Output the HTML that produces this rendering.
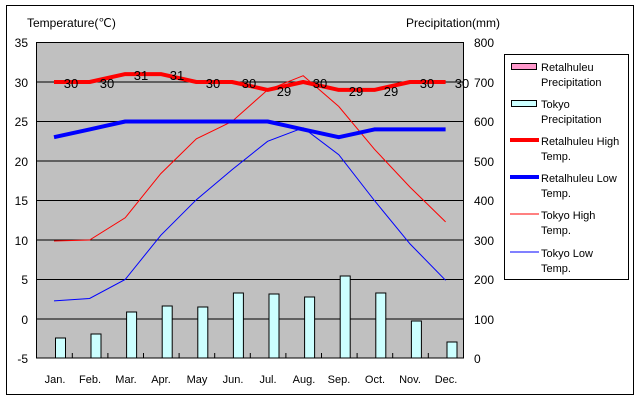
<!DOCTYPE html>
<html><head><meta charset="utf-8"><style>
body{margin:0;background:#fff;}
svg{display:block;font-family:"Liberation Sans",sans-serif;}
</style></head><body>
<svg width="640" height="400" xmlns="http://www.w3.org/2000/svg">
<rect x="0" y="0" width="640" height="400" fill="#fff"/>
<rect x="6.5" y="5.5" width="627" height="389" fill="#fff" stroke="#000" stroke-width="1"/>
<rect x="36.5" y="42.5" width="427" height="315.5" fill="#c0c0c0" stroke="#000" stroke-width="1"/>
<g stroke="#000" stroke-width="1">
<line x1="36" y1="82" x2="464" y2="82"/>
<line x1="36" y1="121.5" x2="464" y2="121.5"/>
<line x1="36" y1="161" x2="464" y2="161"/>
<line x1="36" y1="200.5" x2="464" y2="200.5"/>
<line x1="36" y1="240" x2="464" y2="240"/>
<line x1="36" y1="279.5" x2="464" y2="279.5"/>
<line x1="36" y1="319" x2="464" y2="319"/>
</g>
<g stroke="#000" stroke-width="1">
<line x1="72.3" y1="358" x2="72.3" y2="353"/><line x1="107.9" y1="358" x2="107.9" y2="353"/>
<line x1="143.5" y1="358" x2="143.5" y2="353"/><line x1="179.1" y1="358" x2="179.1" y2="353"/>
<line x1="214.7" y1="358" x2="214.7" y2="353"/><line x1="250.3" y1="358" x2="250.3" y2="353"/>
<line x1="285.9" y1="358" x2="285.9" y2="353"/><line x1="321.5" y1="358" x2="321.5" y2="353"/>
<line x1="357.1" y1="358" x2="357.1" y2="353"/><line x1="392.7" y1="358" x2="392.7" y2="353"/>
<line x1="428.3" y1="358" x2="428.3" y2="353"/>
</g>
<g fill="#ccffff" stroke="#000" stroke-width="1">
<rect x="55.5" y="338" width="10" height="20"/>
<rect x="91" y="334" width="10" height="24"/>
<rect x="126.6" y="312" width="10" height="46"/>
<rect x="162.2" y="306" width="10" height="52"/>
<rect x="197.8" y="307" width="10" height="51"/>
<rect x="233.4" y="293" width="10" height="65"/>
<rect x="269" y="294" width="10" height="64"/>
<rect x="304.6" y="297" width="10" height="61"/>
<rect x="340.2" y="276" width="10" height="82"/>
<rect x="375.8" y="293" width="10" height="65"/>
<rect x="411.4" y="321" width="10" height="37"/>
<rect x="447" y="342" width="10" height="16"/>
</g>
<polyline fill="none" stroke="#f00" stroke-width="1" points="54,241 89.6,240 125.2,217.8 160.8,173.6 196.4,138.8 232,121.5 267.6,89.9 303.2,75.7 338.8,106.5 374.4,149.2 410,187.1 445.6,221.9"/>
<polyline fill="none" stroke="#00f" stroke-width="1" points="54,300.9 89.6,298.5 125.2,279.5 160.8,235.3 196.4,199.7 232,169.7 267.6,141.3 303.2,127.8 338.8,154.7 374.4,200.5 410,243.9 445.6,280.3"/>
<polyline fill="none" stroke="#f00" stroke-width="4" stroke-linejoin="round" points="54,82 89.6,82 125.2,74.1 160.8,74.1 196.4,82 232,82 267.6,89.9 303.2,82 338.8,89.9 374.4,89.9 410,82 445.6,82"/>
<polyline fill="none" stroke="#00f" stroke-width="4" stroke-linejoin="round" points="54,137.2 89.6,129.4 125.2,121.5 160.8,121.5 196.4,121.5 232,121.5 267.6,121.5 303.2,129.4 338.8,137.2 374.4,129.4 410,129.4 445.6,129.4"/>
<g font-size="13" fill="#000" text-anchor="middle">
<text x="71" y="88">30</text><text x="107" y="88">30</text><text x="141" y="80">31</text><text x="177" y="80">31</text>
<text x="213" y="88">30</text><text x="249" y="88">30</text><text x="284" y="96">29</text><text x="320" y="88">30</text>
<text x="356" y="96">29</text><text x="391" y="96">29</text><text x="427" y="88">30</text><text x="462" y="88">30</text>
</g>
<g font-size="12" fill="#000" text-anchor="end">
<text x="28" y="47">35</text><text x="28" y="87">30</text><text x="28" y="126">25</text><text x="28" y="166">20</text>
<text x="28" y="205">15</text><text x="28" y="245">10</text><text x="28" y="284">5</text><text x="28" y="324">0</text><text x="28" y="363">-5</text>
</g>
<g font-size="12" fill="#000" text-anchor="start">
<text x="474" y="47">800</text><text x="474" y="87">700</text><text x="474" y="126">600</text><text x="474" y="166">500</text>
<text x="474" y="205">400</text><text x="474" y="245">300</text><text x="474" y="284">200</text><text x="474" y="324">100</text><text x="474" y="363">0</text>
</g>
<g font-size="11" fill="#000" text-anchor="middle">
<text x="55" y="383">Jan.</text><text x="90" y="383">Feb.</text><text x="126" y="383">Mar.</text><text x="161" y="383">Apr.</text>
<text x="197" y="383">May</text><text x="233" y="383">Jun.</text><text x="268" y="383">Jul.</text><text x="304" y="383">Aug.</text>
<text x="339" y="383">Sep.</text><text x="375" y="383">Oct.</text><text x="410" y="383">Nov.</text><text x="446" y="383">Dec.</text>
</g>
<text x="27" y="27" font-size="12">Temperature(℃)</text>
<text x="406" y="27" font-size="12">Precipitation(mm)</text>
<rect x="504.5" y="54.5" width="124" height="225" fill="#fff" stroke="#000"/>
<rect x="511.5" y="63.5" width="25" height="6" fill="#ff99cc" stroke="#000"/>
<rect x="511.5" y="100.5" width="25" height="6" fill="#ccffff" stroke="#000"/>
<line x1="510" y1="140" x2="539" y2="140" stroke="#f00" stroke-width="4"/>
<line x1="510" y1="177" x2="539" y2="177" stroke="#00f" stroke-width="4"/>
<line x1="510" y1="214" x2="539" y2="214" stroke="#f00" stroke-width="1"/>
<line x1="510" y1="252" x2="539" y2="252" stroke="#00f" stroke-width="1"/>
<g font-size="11" fill="#000">
<text x="541" y="71">Retalhuleu</text><text x="541" y="86">Precipitation</text>
<text x="541" y="108">Tokyo</text><text x="541" y="123">Precipitation</text>
<text x="541" y="145">Retalhuleu High</text><text x="541" y="160">Temp.</text>
<text x="541" y="182">Retalhuleu Low</text><text x="541" y="197">Temp.</text>
<text x="541" y="219">Tokyo High</text><text x="541" y="234">Temp.</text>
<text x="541" y="257">Tokyo Low</text><text x="541" y="272">Temp.</text>
</g>
</svg>
</body></html>
